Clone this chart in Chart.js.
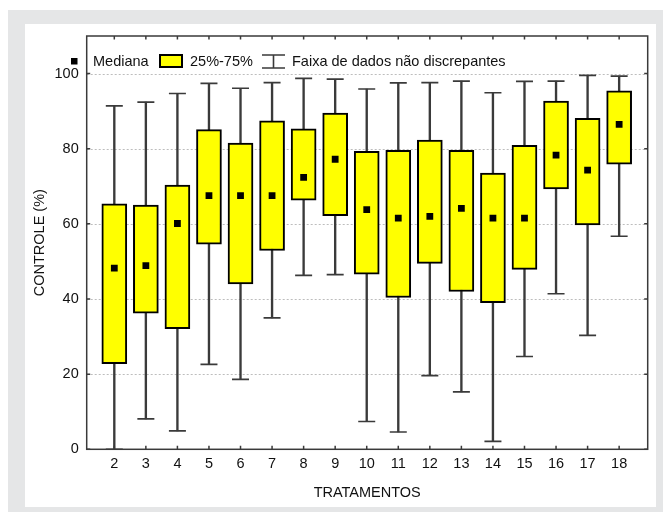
<!DOCTYPE html>
<html>
<head>
<meta charset="utf-8">
<script src="https://cdn.jsdelivr.net/npm/chart.js@4.4.1/dist/chart.umd.min.js"></script>
<style>
html,body{margin:0;padding:0;background:#fff;}
canvas{display:block;}
</style>
</head>
<body>
<canvas id="c" width="663" height="512"></canvas>
<script>
// ---- data ----
const categories = [2,3,4,5,6,7,8,9,10,11,12,13,14,15,16,17,18];
const whiskerLow  = [0, 8.1, 4.9, 22.6, 18.6, 35.0, 46.3, 46.5, 7.4, 4.6, 19.6, 15.3, 2.1, 24.7, 41.4, 30.3, 56.7];
const quartile1   = [22.8, 36.2, 32.1, 54.6, 44.0, 52.9, 66.3, 62.2, 46.6, 40.4, 49.5, 42.0, 39.0, 47.9, 69.3, 59.7, 75.9];
const medians     = [48.2, 48.9, 60.1, 67.5, 67.5, 67.5, 72.4, 77.2, 63.8, 61.5, 62.0, 64.1, 61.5, 61.5, 78.3, 74.3, 86.5];
const quartile3   = [65.3, 65.0, 70.3, 85.1, 81.5, 87.4, 85.3, 89.5, 79.3, 79.6, 82.3, 79.6, 73.5, 80.9, 92.7, 88.1, 95.4];
const whiskerHigh = [91.4, 92.4, 94.7, 97.4, 96.1, 97.6, 98.7, 98.5, 95.9, 97.5, 97.6, 98.0, 94.9, 97.9, 98.0, 99.5, 99.3];
const yTicks = [0, 20, 40, 60, 80, 100];
const legendLabels = ["Mediana", "25%-75%", "Faixa de dados não discrepantes"];
const xTitle = "TRATAMENTOS";
const yTitle = "CONTROLE (%)";

const FONT = "'Liberation Sans', Arial, sans-serif";
const FS = 14.5;
const AX = '#3a3a3a';

const framePlugin = {
  id: 'frame',
  beforeDraw(chart) {
    const ctx = chart.ctx;
    ctx.save();
    ctx.fillStyle = '#e5e6e7';
    ctx.fillRect(8, 10, 663 - 8, 512 - 10);
    ctx.fillStyle = '#ffffff';
    ctx.fillRect(25, 24, 631, 483);
    ctx.restore();
  },
  beforeDatasetsDraw(chart) {
    const ctx = chart.ctx;
    const a = chart.chartArea;
    const ys = chart.scales.y;
    ctx.save();
    ctx.strokeStyle = '#bdbdbd';
    ctx.lineWidth = 1;
    ctx.setLineDash([2, 2]);
    ctx.beginPath();
    yTicks.forEach(v => {
      if (v === 0) return;
      const py = Math.round(ys.getPixelForValue(v)) + 0.5;
      ctx.moveTo(a.left, py); ctx.lineTo(a.right, py);
    });
    ctx.stroke();
    ctx.restore();
  },
  afterDraw(chart) {
    const ctx = chart.ctx;
    const a = chart.chartArea;
    const xs = chart.scales.x, ys = chart.scales.y;
    ctx.save();
    ctx.strokeStyle = AX;
    ctx.lineWidth = 1.5;
    ctx.strokeRect(a.left, a.top, a.right - a.left, a.bottom - a.top);
    ctx.beginPath();
    categories.forEach(c => {
      const px = xs.getPixelForValue(c);
      ctx.moveTo(px, a.bottom); ctx.lineTo(px, a.bottom - 3.5);
      ctx.moveTo(px, a.top); ctx.lineTo(px, a.top + 3.5);
    });
    yTicks.forEach(v => {
      const py = ys.getPixelForValue(v);
      ctx.moveTo(a.left, py); ctx.lineTo(a.left + 3.5, py);
      ctx.moveTo(a.right, py); ctx.lineTo(a.right - 3.5, py);
    });
    ctx.stroke();

    // legend
    ctx.font = FS + 'px ' + FONT;
    ctx.textBaseline = 'middle';
    ctx.textAlign = 'left';
    ctx.fillStyle = '#000';
    ctx.fillRect(71, 58, 6.5, 6.5);
    ctx.fillStyle = '#111';
    ctx.fillText(legendLabels[0], 93, 61.5);
    ctx.fillStyle = '#ffff00';
    ctx.fillRect(159, 54, 24, 14);
    ctx.strokeStyle = '#000';
    ctx.lineWidth = 2;
    ctx.strokeRect(160, 55, 22, 12);
    ctx.fillStyle = '#111';
    ctx.fillText(legendLabels[1], 190, 61.5);
    ctx.strokeStyle = AX;
    ctx.lineWidth = 1.6;
    ctx.beginPath();
    ctx.moveTo(262, 55); ctx.lineTo(285, 55);
    ctx.moveTo(262, 68); ctx.lineTo(285, 68);
    ctx.moveTo(273.5, 55); ctx.lineTo(273.5, 68);
    ctx.stroke();
    ctx.fillText(legendLabels[2], 292, 61.5);
    ctx.restore();
  }
};

const caps = [];
categories.forEach((c, i) => {
  caps.push({x: c, y: whiskerLow[i]});
  caps.push({x: c, y: whiskerHigh[i]});
});

new Chart(document.getElementById('c'), {
  type: 'bar',
  data: {
    datasets: [
      {
        type: 'scatter',
        order: 0,
        data: categories.map((c, i) => ({x: c, y: medians[i]})),
        pointStyle: 'rect',
        pointRadius: 4.8,
        backgroundColor: '#000',
        borderWidth: 0
      },
      {
        type: 'scatter',
        order: 1,
        data: caps,
        pointStyle: 'line',
        pointRadius: 8.5,
        borderColor: AX,
        borderWidth: 1.7,
        backgroundColor: AX
      },
      {
        type: 'bar',
        order: 2,
        grouped: false,
        data: categories.map((c, i) => ({x: c, y: [quartile1[i], quartile3[i]]})),
        barThickness: 25,
        backgroundColor: '#ffff00',
        borderColor: '#000',
        borderWidth: 2,
        borderSkipped: false
      },
      {
        type: 'bar',
        order: 3,
        grouped: false,
        data: categories.map((c, i) => ({x: c, y: [whiskerLow[i], whiskerHigh[i]]})),
        barThickness: 1.7,
        backgroundColor: AX,
        borderWidth: 0
      }
    ]
  },
  options: {
    responsive: false,
    animation: false,
    events: [],
    layout: { padding: { left: 0, top: 36, right: 15.3, bottom: 0 } },
    plugins: { legend: { display: false }, tooltip: { enabled: false } },
    scales: {
      x: {
        type: 'linear',
        offset: false,
        min: 1.125,
        max: 18.905,
        afterBuildTicks: s => { s.ticks = categories.map(v => ({value: v})); },
        afterFit: s => { s.height = 512 - 449.3; },
        grid: { display: false, drawTicks: false, offset: false },
        border: { display: false },
        ticks: { color: '#111', font: { family: FONT, size: FS }, padding: 6, maxRotation: 0, autoSkip: false },
        title: { display: true, text: xTitle, color: '#111', font: { family: FONT, size: FS }, padding: { top: 0, bottom: 10.3 } }
      },
      y: {
        type: 'linear',
        min: 0,
        max: 110,
        afterBuildTicks: s => { s.ticks = yTicks.map(v => ({value: v})); },
        afterFit: s => { s.width = 86.7; },
        grid: { display: false, drawTicks: false },
        border: { display: false },
        ticks: { color: '#111', font: { family: FONT, size: FS }, padding: 8 },
        title: { display: true, text: yTitle, color: '#111', font: { family: FONT, size: FS }, padding: { top: 31.3, bottom: 0 } }
      }
    }
  },
  plugins: [framePlugin]
});
</script>
</body>
</html>
